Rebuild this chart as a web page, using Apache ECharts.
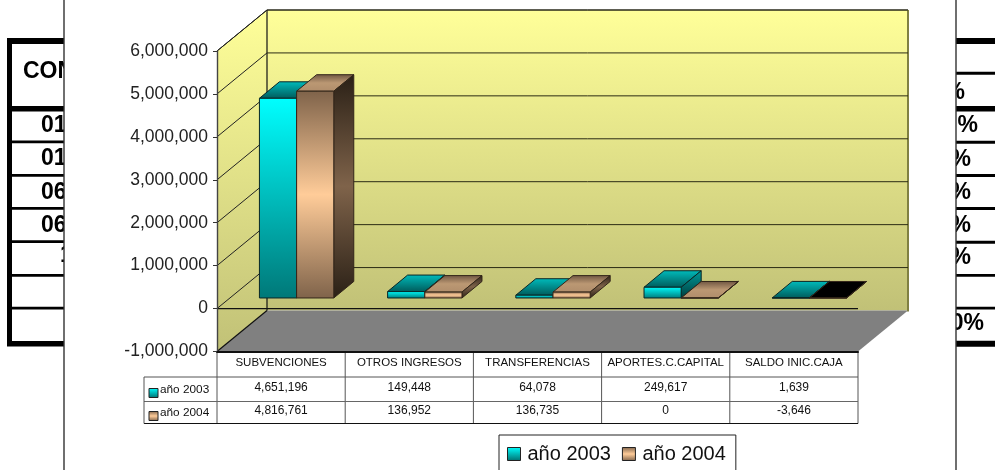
<!DOCTYPE html>
<html>
<head>
<meta charset="utf-8">
<style>
  html, body { margin: 0; padding: 0; background: #fff; }
  #chart { width: 995px; height: 470px; }
</style>
<script src="https://cdn.jsdelivr.net/npm/echarts@6/dist/echarts.min.js"></script>
</head>
<body>
<div id="chart"></div>
<script>
var categories = ['SUBVENCIONES', 'OTROS INGRESOS', 'TRANSFERENCIAS', 'APORTES.C.CAPITAL', 'SALDO INIC.CAJA'];
var seriesNames = ['año 2003', 'año 2004'];
var values2003 = [4651196, 149448, 64078, 249617, 1639];
var values2004 = [4816761, 136952, 136735, 0, -3646];
var yTicks = [-1000000, 0, 1000000, 2000000, 3000000, 4000000, 5000000, 6000000];
// the spreadsheet that sits behind the chart, only its edges show
var sheetLeftLabels = ['CON', '01', '01', '06', '06', '1'];
var sheetRightLabels = ['%', '%', '%', '%', '%', '%', '0%'];

var FONT = '"Liberation Sans", Arial, sans-serif';
var grad = echarts.graphic.LinearGradient;

// 3d depth, in pixels
var WALL_DX = 50, WALL_DY = -41;
var BAR_OFF_X = 15.5, BAR_OFF_Y = -10.6;
var BAR_DX = 20, BAR_DY = -16.5;

var colors = [
  {
    front: new grad(0, 0, 0, 1, [{ offset: 0, color: '#00ffff' }, { offset: 1, color: '#007878' }]),
    top: new grad(0, 0, 0, 1, [{ offset: 0, color: '#00bcbc' }, { offset: 1, color: '#005a5a' }]),
    side: new grad(0, 0, 0, 1, [{ offset: 0, color: '#009c9c' }, { offset: 1, color: '#003c3c' }]),
    stroke: '#0a2626'
  },
  {
    front: new grad(0, 0, 0, 1, [{ offset: 0, color: '#7f634a' }, { offset: 0.5, color: '#ffcc99' }, { offset: 1, color: '#7f634a' }]),
    top: new grad(0, 0, 0, 1, [{ offset: 0, color: '#6e5541' }, { offset: 0.5, color: '#bb9873' }, { offset: 1, color: '#b08d6b' }]),
    side: new grad(0, 0, 0, 1, [{ offset: 0, color: '#2a2016' }, { offset: 0.5, color: '#7f634a' }, { offset: 1, color: '#2a2016' }]),
    stroke: '#33261a'
  }
];
var legendColors = [
  new grad(0, 0, 0, 1, [{ offset: 0, color: '#00ffff' }, { offset: 1, color: '#006f6f' }]),
  new grad(0, 0, 0, 1, [{ offset: 0, color: '#7f634a' }, { offset: 0.5, color: '#ffcc99' }, { offset: 1, color: '#7f634a' }])
];

function poly(points, fill, stroke, lineWidth) {
  return { type: 'polygon', shape: { points: points }, style: { fill: fill, stroke: stroke, lineWidth: lineWidth || 0 } };
}
function line(x1, y1, x2, y2, color, width) {
  return { type: 'line', shape: { x1: x1, y1: y1, x2: x2, y2: y2 }, style: { stroke: color, lineWidth: width || 1 } };
}
function label(text, x, y, align, size) {
  return { type: 'text', x: x, y: y, style: { text: text, fill: '#111', font: size + 'px ' + FONT, align: align, verticalAlign: 'middle' } };
}

function renderWalls(params, api) {
  var g = params.coordSys;
  var x0 = g.x, x1 = g.x + g.width, y0 = g.y, y1 = g.y + g.height;
  var bx0 = x0 + WALL_DX, bx1 = x1 + WALL_DX, by0 = y0 + WALL_DY, by1 = y1 + WALL_DY;
  var wall = new grad(0, 0, 0, 1, [{ offset: 0, color: '#ffff99' }, { offset: 1, color: '#c1c177' }]);
  return {
    type: 'group',
    children: [
      poly([[x0, y0], [bx0, by0], [bx0, by1], [x0, y1]], wall),
      poly([[bx0, by0], [bx1, by0], [bx1, by1], [bx0, by1]], wall),
      poly([[x0, y1], [bx0, by1], [bx1, by1], [x1, y1]], '#808080'),
      line(x0, y0, bx0, by0, '#111', 1),
      line(bx0, by0, bx1, by0, '#222', 1),
      line(bx0, by0, bx0, by1, '#111', 1.2),
      line(bx1, by0, bx1, by1 + 1, '#808042', 2),
      line(x0, y1, bx0, by1, '#111', 1.2)
    ]
  };
}

function renderGridline(params, api) {
  var g = params.coordSys;
  var y = api.coord([0, api.value(0)])[1];
  var children = [];
  if (api.value(0) > yTicks[0]) {
    children.push(line(g.x, y, g.x + WALL_DX, y + WALL_DY, '#222', 1));
    children.push(line(g.x + WALL_DX, y + WALL_DY, g.x + g.width + WALL_DX, y + WALL_DY, '#2b2b14', 1));
  }
  if (api.value(0) === 0) {
    children.push(line(g.x, y, g.x + g.width, y, '#111', 1.2));
  }
  return { type: 'group', children: children };
}

function renderBar(params, api) {
  var c = colors[params.seriesIndex - 2];
  var band = api.size([1, 0])[0];
  var w = band * 0.29;
  var val = api.value(1);
  var base = api.coord([api.value(0), 0]);
  var top = api.coord([api.value(0), Math.max(val, 0)]);
  var left = base[0] + BAR_OFF_X + (params.seriesIndex === 2 ? -w : 0);
  var right = left + w;
  var yb = base[1] + BAR_OFF_Y;
  var yt = top[1] + BAR_OFF_Y;
  return {
    type: 'group',
    children: [
      poly([[left, yt], [left + BAR_DX, yt + BAR_DY], [right + BAR_DX, yt + BAR_DY], [right, yt]], val < 0 ? '#000' : c.top, c.stroke, 1),
      poly([[right, yt], [right + BAR_DX, yt + BAR_DY], [right + BAR_DX, yb + BAR_DY], [right, yb]], c.side, c.stroke, 1),
      poly([[left, yt], [right, yt], [right, yb], [left, yb]], c.front, c.stroke, 1)
    ]
  };
}

// data table under the chart, hangs off the category axis
function renderTable(params, api) {
  var g = params.coordSys;
  var bottom = g.y + g.height;
  var rowY = [bottom + 25.5, bottom + 50, bottom + 72];
  var keyLeft = g.x - 73;
  var band = g.width / categories.length;
  var children = [];
  var i;
  for (i = 0; i <= categories.length; i++) {
    children.push(line(g.x + i * band, bottom, g.x + i * band, rowY[2], '#555', 1));
  }
  children.push(line(keyLeft, rowY[0], g.x + g.width, rowY[0], '#555', 1));
  children.push(line(keyLeft, rowY[1], g.x + g.width, rowY[1], '#666', 1));
  children.push(line(keyLeft, rowY[2], g.x + g.width, rowY[2], '#111', 1));
  children.push(line(keyLeft, rowY[0], keyLeft, rowY[2], '#555', 1));
  [values2003, values2004].forEach(function (vals, s) {
    var y = s === 0 ? bottom + 36.5 : bottom + 59.5;
    vals.forEach(function (v, k) {
      children.push(label(echarts.format.addCommas(v), g.x + (k + 0.5) * band, y, 'center', 12));
    });
    children.push({
      type: 'rect',
      shape: { x: keyLeft + 5, y: y + 0.5, width: 9, height: 9 },
      style: { fill: legendColors[s], stroke: '#222', lineWidth: 1 }
    });
    children.push(label(seriesNames[s], keyLeft + 16, y + 2, 'left', 11.8));
  });
  return { type: 'group', children: children };
}

function sheetGraphics() {
  var els = [];
  function band(x, y, w, h) {
    els.push({ type: 'rect', z: -10, shape: { x: x, y: y, width: w, height: h }, style: { fill: '#000' } });
  }
  function text(t, x, y, align) {
    els.push({ type: 'text', z: -10, x: x, y: y, style: { text: t, fill: '#000', font: 'bold 23px ' + FONT, align: align, verticalAlign: 'middle' } });
  }
  band(7, 38, 5, 308);
  [[38, 6], [106, 5.5], [140.5, 2.8], [174, 2.8], [207, 2.8], [240.3, 2.8], [274, 2.8], [306.8, 2.6], [341, 5.5]].forEach(function (b) {
    band(7, b[0], 80, b[1]);
  });
  [[38, 6], [71.8, 3], [106, 5.5], [140.7, 3], [174, 3], [207, 3], [240.7, 3], [274, 2.8], [306.8, 2.6], [340.8, 6]].forEach(function (b) {
    band(940, b[0], 60, b[1]);
  });
  var leftX = [23, 41, 41, 41, 41, 60];
  var leftY = [72, 126, 159, 193, 226, 256];
  sheetLeftLabels.forEach(function (t, i) { text(t, leftX[i], leftY[i], 'left'); });
  var rightX = [965, 978, 971, 971, 971, 971, 984];
  var rightY = [93, 126, 160, 193, 226, 258, 324];
  sheetRightLabels.forEach(function (t, i) { text(t, rightX[i], rightY[i], 'right'); });
  // white chart sheet lying on top of it
  els.push({
    type: 'rect', z: -5,
    shape: { x: 64, y: -5, width: 892, height: 480 },
    style: { fill: '#fff', stroke: '#333', lineWidth: 1.4 }
  });
  return els;
}

var chart = echarts.init(document.getElementById('chart'));

chart.setOption({
  animation: false,
  backgroundColor: '#fff',
  grid: { left: 217, right: 137, top: 51, bottom: 118.5 },
  graphic: { elements: sheetGraphics() },
  legend: {
    data: seriesNames,
    icon: 'rect',
    left: 499,
    top: 435,
    orient: 'horizontal',
    padding: [9, 10, 30, 8],
    itemGap: 11,
    itemWidth: 13,
    itemHeight: 13,
    borderColor: '#222',
    borderWidth: 1,
    itemStyle: { borderColor: '#222', borderWidth: 1 },
    textStyle: { fontFamily: FONT, fontSize: 20, color: '#111', padding: [0, 0, 0, 2] }
  },
  xAxis: {
    type: 'category',
    data: categories,
    position: 'bottom',
    z: 6,
    axisLine: { onZero: false, lineStyle: { color: '#111', width: 2 } },
    axisTick: { show: false },
    splitLine: { show: false },
    axisLabel: { interval: 0, margin: 5, fontFamily: FONT, fontSize: 11.5, color: '#111' }
  },
  yAxis: {
    type: 'value',
    min: yTicks[0],
    max: yTicks[yTicks.length - 1],
    interval: 1000000,
    z: 6,
    axisLine: { show: true, lineStyle: { color: '#444', width: 1.4 } },
    axisTick: { show: true, length: 4, lineStyle: { color: '#333' } },
    splitLine: { show: false },
    axisLabel: { margin: 9, fontFamily: FONT, fontSize: 17.5, color: '#222' }
  },
  series: [
    { type: 'custom', name: 'walls', z: 1, silent: true, renderItem: renderWalls, data: [[0]] },
    { type: 'custom', name: 'gridlines', z: 2, silent: true, renderItem: renderGridline, encode: { y: 0 }, data: yTicks.map(function (v) { return [v]; }) },
    {
      type: 'custom', name: seriesNames[0], z: 3, renderItem: renderBar,
      itemStyle: { color: legendColors[0] },
      encode: { x: 0, y: 1 },
      data: values2003.map(function (v, i) { return [i, v]; })
    },
    {
      type: 'custom', name: seriesNames[1], z: 3, renderItem: renderBar,
      itemStyle: { color: legendColors[1] },
      encode: { x: 0, y: 1 },
      data: values2004.map(function (v, i) { return [i, v]; })
    },
    { type: 'custom', name: 'table', z: 4, silent: true, renderItem: renderTable, data: [[0]] }
  ]
});
</script>
</body>
</html>
